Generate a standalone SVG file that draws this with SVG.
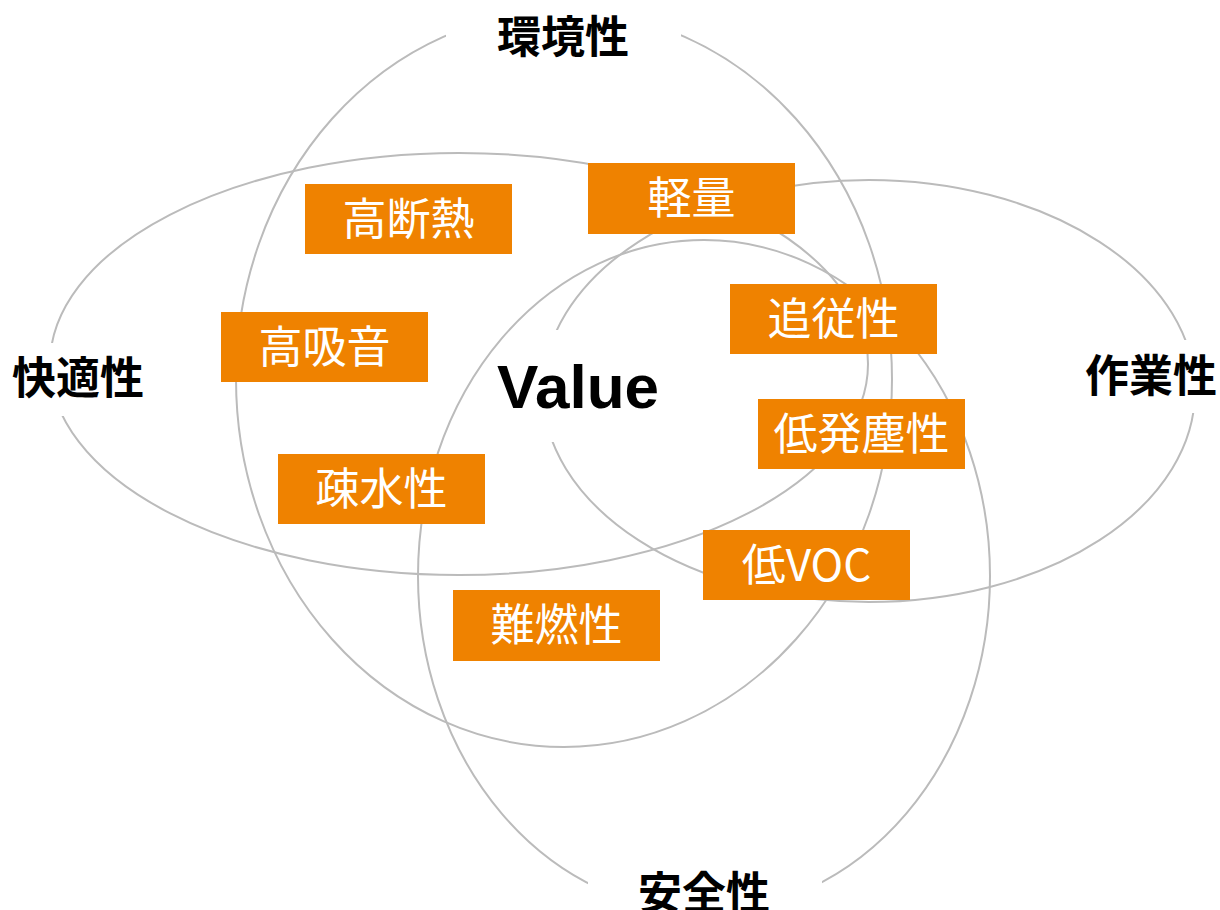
<svg xmlns="http://www.w3.org/2000/svg" width="1220" height="910" viewBox="0 0 1220 910">
<style>
.ring{fill:none;stroke:#BBBBBB;stroke-width:2}
.gap{fill:#FFFFFF}
.box{fill:#EF8200}
.bt{font-family:"Noto Sans CJK JP","Noto Sans",sans-serif;font-size:44px;fill:#FFFFFF;text-anchor:middle}
.lab{font-family:"Noto Sans CJK JP","Noto Sans",sans-serif;font-size:44px;font-weight:700;fill:#000000;text-anchor:middle}
.val{font-family:"Liberation Sans",Arial,sans-serif;font-size:62px;font-weight:700;fill:#000000}
</style>
<rect width="1220" height="910" fill="#FFFFFF"/>
<g id="connectors">
<ellipse id="ring-env" class="ring" cx="564" cy="379" rx="328" ry="368"/>
<ellipse id="ring-comfort" class="ring" cx="459" cy="364" rx="409" ry="211"/>
<ellipse id="ring-work" class="ring" cx="869" cy="391" rx="326" ry="211"/>
<ellipse id="ring-safety" class="ring" cx="704" cy="576" rx="286" ry="336"/>
<rect class="gap" x="446" y="0" width="235" height="62"/>
<rect class="gap" x="0" y="343" width="150" height="73"/>
<rect class="gap" x="1080" y="340" width="140" height="73"/>
<rect class="gap" x="530" y="330" width="170" height="112"/>
<rect class="gap" x="588" y="860" width="234" height="50"/>
</g>
<g id="label-env"><text class="lab" x="563" y="53">環境性</text></g>
<g id="label-comfort"><text class="lab" x="78" y="394">快適性</text></g>
<g id="label-work"><text class="lab" x="1151" y="392">作業性</text></g>
<g id="label-safety"><text class="lab" x="704" y="909">安全性</text></g>
<g id="value"><text class="val" x="497" y="408">Value</text></g>
<g id="n-kodannetsu"><rect class="box" x="305" y="184" width="207" height="70"/><text class="bt" x="408.5" y="235">高断熱</text></g>
<g id="n-keiryo"><rect class="box" x="588" y="163" width="207" height="71"/><text class="bt" x="691.5" y="214">軽量</text></g>
<g id="n-kokyuon"><rect class="box" x="221" y="312" width="207" height="70"/><text class="bt" x="324.5" y="363">高吸音</text></g>
<g id="n-tsuijusei"><rect class="box" x="730" y="284" width="207" height="70"/><text class="bt" x="833.5" y="335">追従性</text></g>
<g id="n-teihatsujin"><rect class="box" x="758" y="399" width="207" height="70"/><text class="bt" x="861.5" y="450">低発塵性</text></g>
<g id="n-sosui"><rect class="box" x="278" y="454" width="207" height="70"/><text class="bt" x="381.5" y="505">疎水性</text></g>
<g id="n-teivoc"><rect class="box" x="703" y="530" width="207" height="70"/><text class="bt" x="806.5" y="581">低VOC</text></g>
<g id="n-nannen"><rect class="box" x="453" y="590" width="207" height="71"/><text class="bt" x="556.5" y="641">難燃性</text></g>
</svg>
